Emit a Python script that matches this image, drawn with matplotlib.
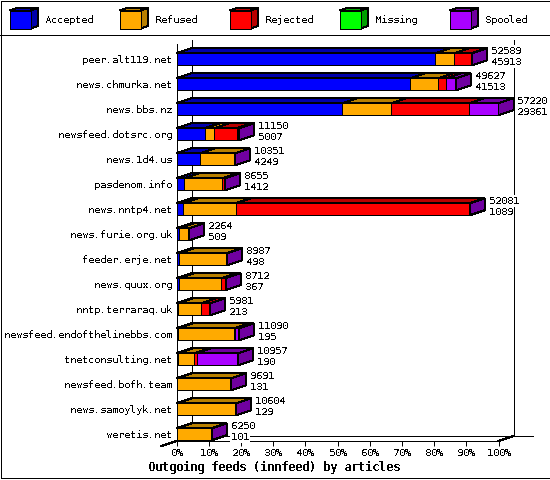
"""Outgoing feeds (innfeed) by articles, drawn as a pseudo 3D stacked bar chart."""

import matplotlib

matplotlib.use("Agg")
import matplotlib.pyplot as plt
from matplotlib.patches import Polygon, Rectangle

plt.rcParams["font.family"] = ["DejaVu Sans Mono"]
plt.rcParams["text.antialiased"] = False
plt.rcParams["text.hinting"] = "native"
plt.rcParams["text.hinting_factor"] = 1

hosts = [
    "peer.alt119.net", "news.chmurka.net", "news.bbs.nz", "newsfeed.dotsrc.org",
    "news.1d4.us", "pasdenom.info", "news.nntp4.net", "news.furie.org.uk",
    "feeder.erje.net", "news.quux.org", "nntp.terraraq.uk",
    "newsfeed.endofthelinebbs.com", "tnetconsulting.net", "newsfeed.bofh.team",
    "news.samoylyk.net", "weretis.net",
]
accepted = [45913, 41513, 29361, 5007, 4249, 1412, 1089, 509,
            498, 367, 213, 195, 190, 131, 129, 101]
refused = [3380, 4975, 8707, 1700, 6102, 6643, 9418, 1755,
           8259, 7604, 4108, 10105, 2957, 9560, 10475, 6149]
rejected = [3150, 1490, 13860, 3980, 0, 600, 41514, 0,
            230, 711, 1660, 20, 410, 0, 0, 0]
missing = [0] * 16
spooled = [146, 1649, 5292, 463, 0, 0, 60, 0,
           0, 30, 0, 770, 7400, 0, 0, 0]
offered = [52589, 49627, 57220, 11150, 10351, 8655, 52081, 2264,
           8987, 8712, 5981, 11090, 10957, 9691, 10604, 6250]

names = ["Accepted", "Refused", "Rejected", "Missing", "Spooled"]
front_colors = ["#0000ff", "#ffaa00", "#ff0000", "#00ff00", "#aa00ff"]
dark_colors = ["#0000aa", "#b88000", "#b80000", "#00a000", "#7000a0"]
x_ticks = list(range(0, 101, 10))

W, H = 550, 480
PLOT_L, PLOT_R, PLOT_T, PLOT_B = 176.5, 498.5, 44.0, 441.0
ROW_0, ROW_STEP, BAR_H = 59.3, 25.0, 12.0
DEPTH_X, DEPTH_Y = 15.0, 5.0
FONT = 7.5
LW = 0.72  # one pixel at 100 dpi

fig = plt.figure(figsize=(W / 100, H / 100), dpi=100)

# whole figure in pixels, for the frame and the legend
page = fig.add_axes([0, 0, 1, 1])
page.set_xlim(0, W)
page.set_ylim(H, 0)
page.axis("off")


def poly(ax, pts, color, z=2):
    ax.add_patch(Polygon(pts, closed=True, facecolor=color, edgecolor="black",
                         linewidth=LW, antialiased=False, zorder=z, clip_on=False))


page.add_patch(Rectangle((0.5, 0.5), W - 1, H - 2.5, fill=False, edgecolor="black",
                         linewidth=LW, antialiased=False))
page.plot([0, W], [35, 35], color="black", lw=LW, antialiased=False)

for i, name in enumerate(names):
    x0 = 10 + 110 * i
    poly(page, [(x0, 10.5), (x0 + 7, 8), (x0 + 28, 8), (x0 + 21, 10.5)], dark_colors[i])
    poly(page, [(x0 + 21, 10.5), (x0 + 28, 8), (x0 + 28, 26), (x0 + 21, 28.5)], dark_colors[i])
    poly(page, [(x0, 10.5), (x0 + 21, 10.5), (x0 + 21, 28.5), (x0, 28.5)], front_colors[i])
    page.text(x0 + 34.5, 20, name, fontsize=FONT, va="center", ha="left")

page.text(274, 467, "Outgoing feeds (innfeed) by articles", fontsize=8.4,
          fontweight="bold", ha="center", va="center")

# plot area, x in percent of the largest total, y in rows
ax = fig.add_axes([PLOT_L / W, 1 - PLOT_B / H, (PLOT_R - PLOT_L) / W, (PLOT_B - PLOT_T) / H])
ax.set_xlim(0, 100)
ax.set_ylim((PLOT_B - ROW_0) / ROW_STEP, (PLOT_T - ROW_0) / ROW_STEP)
ax.patch.set_alpha(0)
for side in ("top", "right"):
    ax.spines[side].set_visible(False)
for side in ("left", "bottom"):
    ax.spines[side].set_linewidth(LW)
    ax.spines[side].set_antialiased(False)

px_x = 100.0 / (PLOT_R - PLOT_L)
px_y = 1.0 / ROW_STEP
dx = DEPTH_X * px_x
dy = DEPTH_Y * px_y
half = BAR_H / 2 * px_y
y_floor, y_top = ax.get_ylim()

# back wall and floor lines
line = dict(color="black", lw=LW, antialiased=False, clip_on=False, zorder=1)
ax.plot([dx, dx], [y_floor - dy, y_top - 4 * px_y], **line)
ax.plot([100 + dx, 100 + dx], [y_floor - dy, y_top - 4 * px_y], **line)
ax.plot([dx, 100 + 34 * px_x], [y_floor - dy, y_floor - dy], **line)
ax.plot([100, 100 + dx], [y_floor, y_floor - dy], **line)
ax.plot([-15 * px_x, 0], [y_floor + dy, y_floor], **line)

ax.set_xticks(x_ticks)
ax.set_xticklabels([f"{t}%" for t in x_ticks], fontsize=FONT)
ax.set_yticks(range(len(hosts)))
ax.set_yticklabels(hosts, fontsize=FONT)
ax.tick_params(axis="x", length=3.4, width=LW, pad=1.5)
ax.tick_params(axis="y", length=0, pad=3.5)

series = [accepted, refused, rejected, missing, spooled]
largest = max(offered)
for row in range(len(hosts)):
    top, bottom = row - half, row + half
    left = 0.0
    for k, values in enumerate(series):
        width = values[row] / largest * 100
        if width == 0:
            continue
        right = left + width
        poly(ax, [(left, top), (left + dx, top - dy), (right + dx, top - dy), (right, top)],
             dark_colors[k])
        poly(ax, [(left, top), (right, top), (right, bottom), (left, bottom)], front_colors[k])
        left = right
    # the side face always takes the last series colour
    poly(ax, [(left, top), (left + dx, top - dy), (left + dx, bottom - dy), (left, bottom)],
         dark_colors[-1])
    label_x = left + dx + 4 * px_x
    for txt, offset in ((offered[row], -8.5), (accepted[row], 2.5)):
        ax.text(label_x, row + offset * px_y, str(txt), fontsize=FONT, ha="left", va="center",
                zorder=5, clip_on=False,
                bbox=dict(facecolor="white", edgecolor="none", pad=0.6))

fig.savefig("out.png", dpi=100)
plt.close(fig)
